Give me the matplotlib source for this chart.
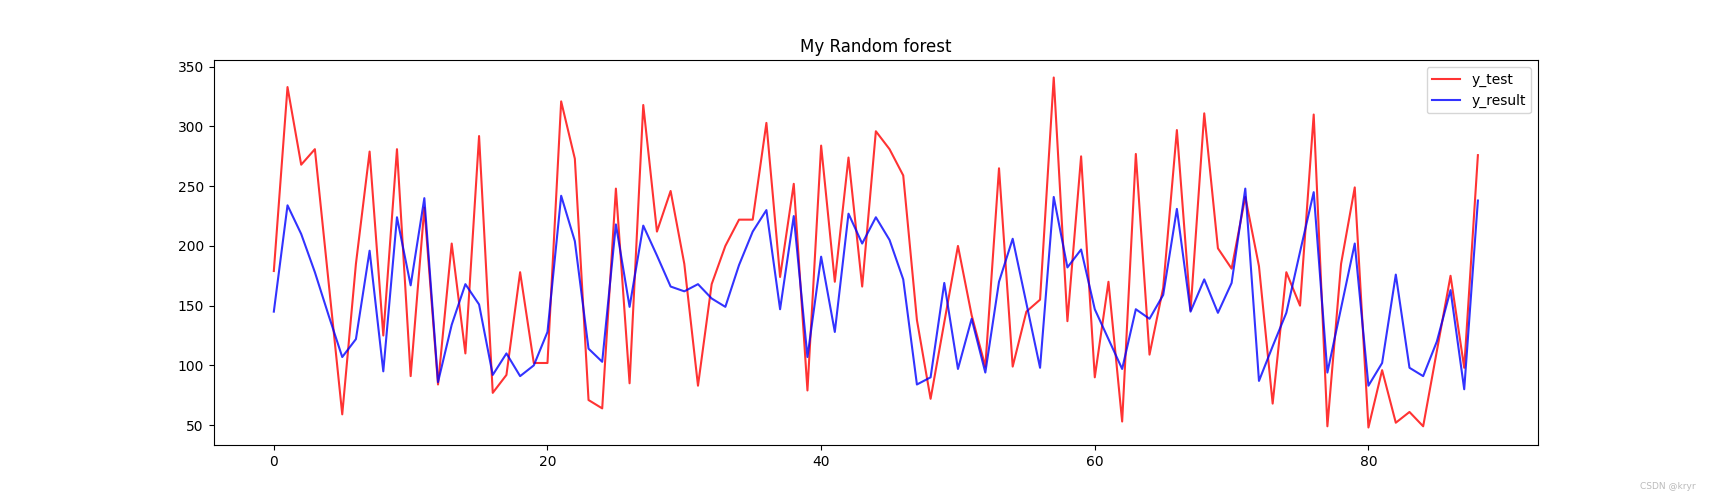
import matplotlib
matplotlib.use("Agg")
import matplotlib.pyplot as plt

y_test = [179, 333, 268, 281, 170, 59, 185, 279, 125, 281,
          91, 232, 84, 202, 110, 292, 77, 92, 178, 102,
          102, 321, 273, 71, 64, 248, 85, 318, 212, 246,
          185, 83, 168, 200, 222, 222, 303, 174, 252, 79,
          284, 170, 274, 166, 296, 281, 259, 138, 72, 136,
          200, 142, 99, 265, 99, 145, 155, 341, 137, 275,
          90, 170, 53, 277, 109, 165, 297, 146, 311, 198,
          181, 241, 183, 68, 178, 150, 310, 49, 185, 249,
          48, 96, 52, 61, 49, 112, 175, 98, 276]
y_result = [145, 234, 210, 178, 142, 107, 122, 196, 95, 224,
            167, 240, 86, 134, 168, 151, 92, 110, 91, 100,
            128, 242, 204, 114, 103, 218, 149, 217, 192, 166,
            162, 168, 156, 149, 184, 212, 230, 147, 225, 107,
            191, 128, 227, 202, 224, 205, 172, 84, 90, 169,
            97, 139, 94, 170, 206, 152, 98, 241, 182, 197,
            147, 122, 97, 147, 139, 159, 231, 145, 172, 144,
            169, 248, 87, 116, 144, 195, 245, 94, 148, 202,
            83, 102, 176, 98, 91, 120, 163, 80, 238]

fig = plt.figure(figsize=(17.09, 5), dpi=100)
# the two series against their index
plt.plot(range(len(y_test)), y_test, color="r", alpha=0.8, label="y_test")
plt.plot(range(len(y_result)), y_result, color="b", alpha=0.8, label="y_result")
plt.title("My Random forest")
plt.legend()

fig.text(0.992, 0.018, "CSDN @kryr", ha="right", va="bottom", fontsize=6.5, color="#bbbbbb")

plt.savefig("out.png", dpi=100)
